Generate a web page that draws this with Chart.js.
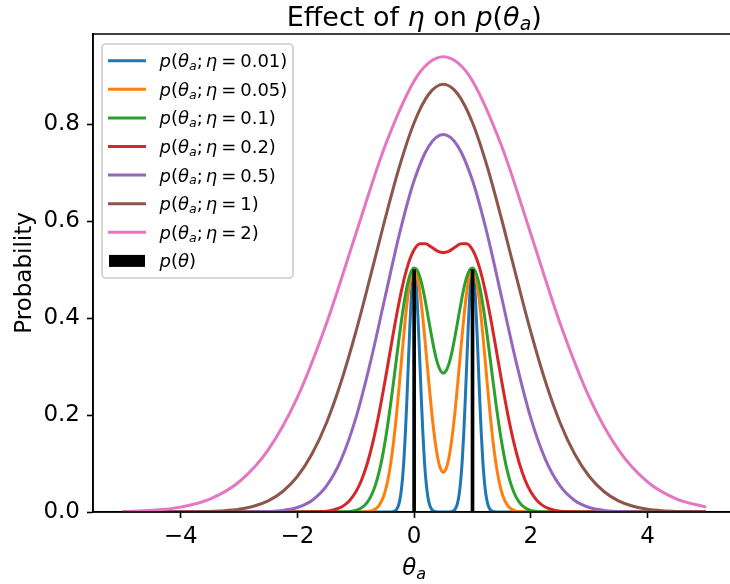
<!DOCTYPE html>
<html><head><meta charset="utf-8">
<script src="https://cdn.jsdelivr.net/npm/chart.js@4.4.0/dist/chart.umd.min.js"></script>
<style>html,body{margin:0;padding:0;background:#fff}canvas{display:block}</style>
</head><body>
<canvas id="c" width="730" height="584"></canvas>
<script>
// ---- data ----
const etaLabels = ['0.01', '0.05', '0.1', '0.2', '0.5', '1', '2'];
const seriesColors = ['#1f77b4', '#ff7f0e', '#2ca02c', '#d62728', '#9467bd', '#8c564b', '#e377c2'];

const x001 = [-5, -0.45, -0.4, -0.375, -0.35, -0.325, -0.3, -0.275, -0.25, -0.225, -0.2, -0.175, -0.15, -0.125, -0.1, -0.075, -0.05, -0.025, 0, 0.025, 0.05, 0.075, 0.1, 0.125, 0.15, 0.175, 0.2, 0.225, 0.25, 0.275, 0.3, 0.325, 0.35, 0.375, 0.4, 0.5, 0.6, 0.625, 0.65, 0.675, 0.7, 0.725, 0.75, 0.775, 0.8, 0.825, 0.85, 0.875, 0.9, 0.925, 0.95, 0.975, 1, 1.025, 1.05, 1.075, 1.1, 1.125, 1.15, 1.175, 1.2, 1.225, 1.25, 1.275, 1.3, 1.325, 1.35, 1.375, 1.4, 1.45, 5];
const y001 = [0, 0, 0.0002, 0.0004, 0.0011, 0.0025, 0.0056, 0.0114, 0.0220, 0.0398, 0.0677, 0.1082, 0.1623, 0.2289, 0.3033, 0.3774, 0.4412, 0.4846, 0.5000, 0.4846, 0.4412, 0.3774, 0.3033, 0.2289, 0.1623, 0.1082, 0.0677, 0.0398, 0.0220, 0.0114, 0.0056, 0.0025, 0.0011, 0.0004, 0.0002, 0, 0.0002, 0.0004, 0.0011, 0.0025, 0.0056, 0.0114, 0.0220, 0.0398, 0.0677, 0.1082, 0.1623, 0.2289, 0.3033, 0.3774, 0.4412, 0.4846, 0.5000, 0.4846, 0.4412, 0.3774, 0.3033, 0.2289, 0.1623, 0.1082, 0.0677, 0.0398, 0.0220, 0.0114, 0.0056, 0.0025, 0.0011, 0.0004, 0.0002, 0, 0];

const x005 = [-5, -1, -0.9, -0.85, -0.8, -0.75, -0.7, -0.65, -0.6, -0.55, -0.5, -0.45, -0.4, -0.35, -0.3, -0.25, -0.2, -0.15, -0.1, -0.05, 0, 0.05, 0.1, 0.15, 0.2, 0.25, 0.3, 0.35, 0.4, 0.45, 0.5, 0.55, 0.6, 0.65, 0.7, 0.75, 0.8, 0.85, 0.9, 0.95, 1, 1.05, 1.1, 1.15, 1.2, 1.25, 1.3, 1.35, 1.4, 1.45, 1.5, 1.55, 1.6, 1.65, 1.7, 1.75, 1.8, 1.85, 1.9, 2, 5];
const y005 = [0, 0, 0.0002, 0.0004, 0.0008, 0.0018, 0.0037, 0.0073, 0.0137, 0.0243, 0.0411, 0.0660, 0.1010, 0.1469, 0.2033, 0.2677, 0.3352, 0.3993, 0.4524, 0.4877, 0.5000, 0.4877, 0.4526, 0.3996, 0.3360, 0.2695, 0.2070, 0.1542, 0.1146, 0.0903, 0.0821, 0.0903, 0.1146, 0.1542, 0.2070, 0.2695, 0.3360, 0.3996, 0.4526, 0.4877, 0.5000, 0.4877, 0.4524, 0.3993, 0.3352, 0.2677, 0.2033, 0.1469, 0.1010, 0.0660, 0.0411, 0.0243, 0.0137, 0.0073, 0.0037, 0.0018, 0.0008, 0.0004, 0.0002, 0, 0];

const x01 = [-5, -1.4, -1.3, -1.2, -1.1, -1, -0.95, -0.9, -0.85, -0.8, -0.75, -0.7, -0.65, -0.6, -0.55, -0.5, -0.45, -0.4, -0.35, -0.3, -0.25, -0.2, -0.15, -0.1, -0.05, 0, 0.05, 0.1, 0.15, 0.2, 0.25, 0.3, 0.35, 0.4, 0.45, 0.5, 0.55, 0.6, 0.65, 0.7, 0.75, 0.8, 0.85, 0.9, 0.95, 1, 1.05, 1.1, 1.15, 1.2, 1.25, 1.3, 1.35, 1.4, 1.45, 1.5, 1.55, 1.6, 1.65, 1.7, 1.75, 1.8, 1.85, 1.9, 1.95, 2, 2.1, 2.2, 2.3, 2.4, 5];
const y01 = [0, 0, 0.0001, 0.0004, 0.0012, 0.0034, 0.0055, 0.0087, 0.0135, 0.0204, 0.0301, 0.0432, 0.0605, 0.0827, 0.1102, 0.1433, 0.1817, 0.2247, 0.2711, 0.3189, 0.3660, 0.4097, 0.4475, 0.4768, 0.4958, 0.5034, 0.4993, 0.4843, 0.4603, 0.4298, 0.3959, 0.3620, 0.3315, 0.3073, 0.2918, 0.2865, 0.2918, 0.3073, 0.3315, 0.3620, 0.3959, 0.4298, 0.4603, 0.4843, 0.4993, 0.5034, 0.4958, 0.4768, 0.4475, 0.4097, 0.3660, 0.3189, 0.2711, 0.2247, 0.1817, 0.1433, 0.1102, 0.0827, 0.0605, 0.0432, 0.0301, 0.0204, 0.0135, 0.0087, 0.0055, 0.0034, 0.0012, 0.0004, 0.0001, 0, 0];

const x02 = [-5, -2, -1.8, -1.7, -1.6, -1.5, -1.4, -1.3, -1.2, -1.1, -1, -0.9, -0.8, -0.7, -0.6, -0.5, -0.4, -0.3, -0.2, -0.1, 0, 0.1, 0.2, 0.3, 0.4, 0.5, 0.6, 0.7, 0.8, 0.9, 1, 1.1, 1.2, 1.3, 1.4, 1.5, 1.6, 1.7, 1.8, 1.9, 2, 2.1, 2.2, 2.3, 2.4, 2.5, 2.6, 2.7, 2.8, 3, 5];
const y02 = [0, 0, 0.0002, 0.0004, 0.0008, 0.0018, 0.0037, 0.0073, 0.0137, 0.0243, 0.0411, 0.0661, 0.1011, 0.1473, 0.2041, 0.2695, 0.3389, 0.4066, 0.4661, 0.5120, 0.5411, 0.5537, 0.5534, 0.5462, 0.5385, 0.5353, 0.5385, 0.5462, 0.5534, 0.5537, 0.5411, 0.5120, 0.4661, 0.4066, 0.3389, 0.2695, 0.2041, 0.1473, 0.1011, 0.0661, 0.0411, 0.0243, 0.0137, 0.0073, 0.0037, 0.0018, 0.0008, 0.0004, 0.0002, 0, 0];

const x05 = [-5, -4, -3.5, -3, -2.75, -2.5, -2.25, -2, -1.75, -1.5, -1.25, -1, -0.75, -0.5, -0.25, 0, 0.25, 0.5, 0.75, 1, 1.25, 1.5, 1.75, 2, 2.25, 2.5, 2.75, 3, 3.25, 3.5, 3.75, 4, 4.5, 5];
const y05 = [0, 0, 0, 0.0001, 0.0003, 0.0010, 0.0032, 0.0092, 0.0237, 0.0537, 0.1080, 0.1931, 0.3083, 0.4421, 0.5745, 0.6839, 0.7546, 0.7788, 0.7546, 0.6839, 0.5745, 0.4421, 0.3083, 0.1931, 0.1080, 0.0537, 0.0237, 0.0092, 0.0032, 0.0010, 0.0003, 0.0001, 0, 0];

const x1 = [-5, -4.5, -4, -3.75, -3.5, -3.25, -3, -2.75, -2.5, -2.25, -2, -1.75, -1.5, -1.25, -1, -0.75, -0.5, -0.25, 0, 0.25, 0.5, 0.75, 1, 1.25, 1.5, 1.75, 2, 2.25, 2.5, 2.75, 3, 3.25, 3.5, 3.75, 4, 4.25, 4.5, 4.75, 5];
const y1 = [0, 0, 0.0002, 0.0004, 0.0011, 0.0026, 0.0057, 0.0118, 0.0230, 0.0423, 0.0732, 0.1196, 0.1843, 0.2687, 0.3709, 0.4856, 0.6036, 0.7135, 0.8033, 0.8620, 0.8825, 0.8620, 0.8033, 0.7135, 0.6036, 0.4856, 0.3709, 0.2687, 0.1843, 0.1196, 0.0732, 0.0423, 0.0230, 0.0118, 0.0057, 0.0026, 0.0011, 0.0004, 0.0002];

const x2 = [-5, -4.5, -4, -3.5, -3, -2.5, -2, -1.5, -1, -0.5, 0, 0.25, 0.5, 0.75, 1, 1.5, 2, 2.5, 3, 3.5, 4, 4.5, 5];
const y2 = [0.0010, 0.0034, 0.0101, 0.0266, 0.0619, 0.1282, 0.2366, 0.3897, 0.5733, 0.7546, 0.8894, 0.9267, 0.9394, 0.9267, 0.8894, 0.7546, 0.5733, 0.3897, 0.2366, 0.1282, 0.0619, 0.0266, 0.0101];

const priorX = [0, 1];
const priorY = [0.5, 0.5];

const xTicks = [-4, -2, 0, 2, 4];
const yTicks = [0, 0.2, 0.4, 0.6, 0.8];

// ---- build chart ----
const seriesX = [x001, x005, x01, x02, x05, x1, x2];
const seriesY = [y001, y005, y01, y02, y05, y1, y2];
const FONT = '"DejaVu Sans", sans-serif';
Chart.defaults.font.family = FONT;

const datasets = [{
  type: 'bar',
  data: priorX.map((x, i) => ({ x: x, y: priorY[i] })),
  backgroundColor: '#000000',
  barThickness: 3,
  grouped: false,
  order: 0,
  clip: 0
}];
seriesX.forEach((xs, i) => {
  datasets.push({
    type: 'line',
    data: xs.map((x, j) => ({ x: x, y: seriesY[i][j] })),
    borderColor: seriesColors[i],
    borderWidth: 3,
    pointRadius: 0,
    fill: false,
    cubicInterpolationMode: 'monotone',
    order: 7 - i,
    clip: 0
  });
});

function drawRich(ctx, segs, x, y, size, align) {
  const parts = segs.map(sg => {
    if (sg[1] === 'sp') return { w: sg[0] * size };
    const fs = sg[1] === 'b' ? size * 0.7 : size;
    const font = (sg[1] === 'i' || sg[1] === 'b' ? 'italic ' : '') + fs + 'px ' + FONT;
    ctx.font = font;
    return { t: sg[0], font: font, w: ctx.measureText(sg[0]).width, dy: sg[1] === 'b' ? size * 0.16 : 0 };
  });
  const total = parts.reduce((a, p) => a + p.w, 0);
  let cx = align === 'center' ? x - total / 2 : x;
  ctx.textAlign = 'left';
  ctx.textBaseline = 'alphabetic';
  parts.forEach(p => {
    if (p.t !== undefined) { ctx.font = p.font; ctx.fillText(p.t, cx, y + p.dy); }
    cx += p.w;
  });
  return total;
}

const decor = {
  id: 'decor',
  afterDraw(chart) {
    const ctx = chart.ctx;
    const a = chart.chartArea;
    ctx.save();
    // spines
    ctx.strokeStyle = '#000';
    ctx.lineWidth = 1.6;
    ctx.beginPath();
    ctx.moveTo(a.left, a.top); ctx.lineTo(a.right, a.top);
    ctx.moveTo(a.left, a.top); ctx.lineTo(a.left, a.bottom);
    ctx.moveTo(a.left, a.bottom); ctx.lineTo(a.right, a.bottom);
    ctx.stroke();

    ctx.fillStyle = '#000';
    const axesCenter = 414.2;
    // title
    drawRich(ctx, [['Effect of ', 'r'], ['η', 'i'], [' on ', 'r'], ['p', 'i'], ['(', 'r'], ['θ', 'i'], ['a', 'b'], [')', 'r']], axesCenter, 25.5, 27, 'center');
    // x label
    drawRich(ctx, [['θ', 'i'], ['a', 'b']], axesCenter, 575, 23, 'center');
    // y label
    ctx.save();
    ctx.translate(31, (a.top + a.bottom) / 2);
    ctx.rotate(-Math.PI / 2);
    ctx.font = '23px ' + FONT;
    ctx.textAlign = 'center';
    ctx.textBaseline = 'alphabetic';
    ctx.fillText('Probability', 0, 0);
    ctx.restore();

    // legend
    const bx = 102, by = 44, bw = 191, bh = 234;
    ctx.beginPath();
    ctx.roundRect(bx, by, bw, bh, 4);
    ctx.fillStyle = 'rgba(255,255,255,0.8)';
    ctx.fill();
    ctx.strokeStyle = '#cccccc';
    ctx.lineWidth = 1.6;
    ctx.stroke();
    const fs = 18;
    for (let i = 0; i < 8; i++) {
      const cy = 60.7 + i * 28.6;
      if (i < 7) {
        ctx.strokeStyle = seriesColors[i];
        ctx.lineWidth = 3;
        ctx.beginPath(); ctx.moveTo(108, cy); ctx.lineTo(146, cy); ctx.stroke();
        ctx.fillStyle = '#000';
        drawRich(ctx, [['p', 'i'], ['(', 'r'], ['θ', 'i'], ['a', 'b'], [';', 'r'], [0.17, 'sp'], ['η', 'i'], [0.22, 'sp'], ['=', 'r'], [0.22, 'sp'], [etaLabels[i], 'r'], [')', 'r']], 159.5, cy + 6.5, fs, 'left');
      } else {
        ctx.fillStyle = '#000';
        ctx.fillRect(109, cy - 6, 36, 12);
        drawRich(ctx, [['p', 'i'], ['(', 'r'], ['θ', 'i'], [')', 'r']], 159.5, cy + 6.5, fs, 'left');
      }
    }
    ctx.restore();
  }
};

new Chart(document.getElementById('c'), {
  type: 'line',
  data: { datasets: datasets },
  plugins: [decor],
  options: {
    responsive: false,
    animation: false,
    layout: { padding: { top: 34, left: 0, right: 0, bottom: 0 } },
    plugins: { legend: { display: false }, tooltip: { enabled: false }, title: { display: false } },
    scales: {
      x: {
        type: 'linear',
        min: -5.5,
        max: 5.41,
        offset: false,
        afterBuildTicks: s => { s.ticks = xTicks.map(v => ({ value: v })); },
        afterFit: s => { s.height = 72; },
        grid: { offset: false, drawOnChartArea: false, drawTicks: true, tickLength: 6, tickWidth: 1.6, tickColor: '#000' },
        border: { display: true, color: '#000', width: 1.6 },
        ticks: {
          autoSkip: false, maxRotation: 0, padding: 5, color: '#000',
          font: { size: 23, family: FONT },
          callback: v => (v < 0 ? '\u2212' + Math.abs(v) : String(v))
        }
      },
      y: {
        type: 'linear',
        min: 0,
        max: 0.9864,
        afterBuildTicks: s => { s.ticks = yTicks.map(v => ({ value: v })); },
        afterFit: s => { s.width = 93; },
        grid: { offset: false, drawOnChartArea: false, drawTicks: true, tickLength: 6, tickWidth: 1.6, tickColor: '#000' },
        border: { display: true, color: '#000', width: 1.6 },
        ticks: {
          autoSkip: false, padding: 7, color: '#000',
          font: { size: 23, family: FONT },
          callback: v => Number(v).toFixed(1)
        }
      }
    }
  }
});
</script>
</body></html>
